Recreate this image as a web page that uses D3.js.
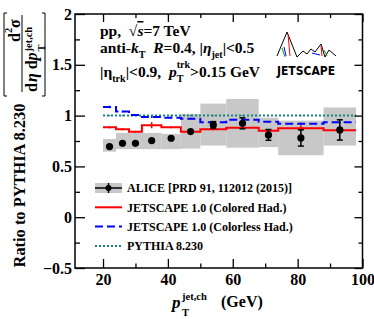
<!DOCTYPE html>
<meta charset="utf-8">
<style>
body { margin: 0; background: #fff; }
svg { display: block; font-family: "Liberation Serif", "Times New Roman", serif; font-weight: bold; }
text { white-space: pre; }
</style>
<svg width="374" height="319"></svg>
<script src="https://d3js.org/d3.v7.min.js"></script>
<script>

// bin edges (GeV) shared by data and models
var edges = [20, 24, 28, 32, 38, 44, 50, 58, 68, 74, 88, 98];

var aliceVal   = [0.695, 0.727, 0.727, 0.754, 0.777, 0.843, 0.908, 0.924, 0.810, 0.780, 0.859];
var aliceStat  = [0.01, 0.01, 0.01, 0.012, 0.012, 0.02, 0.033, 0.054, 0.053, 0.08, 0.10];
var aliceSysHi = [0.77, 0.83, 0.83, 0.83, 0.82, 1.017, 1.118, 1.164, 0.98, 0.95, 1.08];
var aliceSysLo = [0.645, 0.67, 0.67, 0.67, 0.67, 0.675, 0.705, 0.684, 0.69, 0.61, 0.705];

var coloredVal = [0.885, 0.865, 0.84, 0.905, 0.885, 0.84, 0.865, 0.88, 0.85, 0.875, 0.855];
var coloredErr = [0.01, 0.01, 0.01, 0.03, 0.01, 0.01, 0.01, 0.01, 0.01, 0.03, 0.02];
var colorlessVal = [1.085, 1.04, 1.005, 0.985, 0.98, 0.97, 0.935, 0.96, 0.94, 0.92, 0.935];
var colorlessErr = [0.012, 0.01, 0.008, 0.008, 0.008, 0.008, 0.008, 0.008, 0.008, 0.01, 0.01];
var pythiaVal  = [1, 1, 1, 1, 1, 1, 1, 1, 1, 1, 1];
var pythiaErr  = [0.006, 0.006, 0.006, 0.006, 0.006, 0.006, 0.006, 0.006, 0.006, 0.006, 0.006];

var xMajor = [20, 40, 60, 80, 100], xMinor = [30, 50, 70, 90];
var yMajor = [-0.5, 0, 0.5, 1, 1.5, 2], yMinor = [-0.25, 0.25, 0.75, 1.25, 1.75];
var yLabels = ["\u22120.5", "0", "0.5", "1", "1.5", "2"];

var legendNames = ["ALICE [PRD 91, 112012 (2015)]", "JETSCAPE 1.0 (Colored Had.)",
                   "JETSCAPE 1.0 (Colorless Had.)", "PYTHIA 8.230"];
var legendKinds = ["alice", "red", "blue", "teal"];

var RED = "#ff0000", BLUE = "#0000ff", TEAL = "#1a8080", GRAY = "#c8c8c8";

var svg = d3.select("svg");
var x = d3.scaleLinear().domain([11.36, 100]).range([75, 362.5]);
var y = d3.scaleLinear().domain([-0.5, 2]).range([268, 14]);

var bins = d3.range(aliceVal.length).map(function(i) {
  return {lo: edges[i], hi: edges[i + 1], c: (edges[i] + edges[i + 1]) / 2, i: i};
});

// systematic boxes
svg.append("g").selectAll("rect").data(bins).enter().append("rect")
  .attr("x", function(d) { return x(d.lo); })
  .attr("width", function(d) { return x(d.hi) - x(d.lo); })
  .attr("y", function(d) { return y(aliceSysHi[d.i]); })
  .attr("height", function(d) { return y(aliceSysLo[d.i]) - y(aliceSysHi[d.i]); })
  .attr("fill", GRAY);

function stepLine(vals) {
  var pts = vals.map(function(v, i) { return [edges[i], v]; });
  pts.push([edges[edges.length - 1], vals[vals.length - 1]]);
  return d3.line().x(function(d) { return x(d[0]); }).y(function(d) { return y(d[1]); })
    .curve(d3.curveStepAfter)(pts);
}

function drawModel(vals, errs, color, dash) {
  var g = svg.append("g");
  g.append("path").attr("d", stepLine(vals)).attr("fill", "none")
    .attr("stroke", color).attr("stroke-width", 2).attr("stroke-dasharray", dash);
  g.selectAll("line").data(bins).enter().append("line")
    .attr("x1", function(d) { return x(d.c); }).attr("x2", function(d) { return x(d.c); })
    .attr("y1", function(d) { return y(vals[d.i] + errs[d.i]); })
    .attr("y2", function(d) { return y(vals[d.i] - errs[d.i]); })
    .attr("stroke", color).attr("stroke-width", 1.5);
}

drawModel(pythiaVal, pythiaErr, TEAL, "2,2");
drawModel(colorlessVal, colorlessErr, BLUE, "8,4");
drawModel(coloredVal, coloredErr, RED, null);

// ALICE points with stat bars
var ga = svg.append("g").attr("stroke", "#000").attr("stroke-width", 1.5);
ga.selectAll("line.err").data(bins).enter().append("line")
  .attr("x1", function(d) { return x(d.c); }).attr("x2", function(d) { return x(d.c); })
  .attr("y1", function(d) { return y(aliceVal[d.i] + aliceStat[d.i]); })
  .attr("y2", function(d) { return y(aliceVal[d.i] - aliceStat[d.i]); });
[1, -1].forEach(function(sgn) {
  ga.selectAll(null).data(bins.filter(function(d) { return aliceStat[d.i] > 0.03; })).enter().append("line")
    .attr("x1", function(d) { return x(d.c) - 3; }).attr("x2", function(d) { return x(d.c) + 3; })
    .attr("y1", function(d) { return y(aliceVal[d.i] + sgn * aliceStat[d.i]); })
    .attr("y2", function(d) { return y(aliceVal[d.i] + sgn * aliceStat[d.i]); });
});
ga.selectAll("circle").data(bins).enter().append("circle")
  .attr("cx", function(d) { return x(d.c); }).attr("cy", function(d) { return y(aliceVal[d.i]); })
  .attr("r", 3.6).attr("fill", "#000").attr("stroke", "none");

// axes, ticks pointing inward on all four sides
function ticks(gen, vals, size, labels, tr, pad) {
  var g = svg.append("g").attr("transform", tr)
    .call(gen.tickValues(vals).tickSize(-size).tickPadding(pad || 0)
      .tickFormat(function(d, i) { return labels ? labels[i] : ""; }));
  g.select(".domain").remove();
  g.selectAll("line").attr("stroke", "#000").attr("stroke-width", 1.3);
  g.attr("font-family", null).attr("font-size", 16);
  g.selectAll("text").attr("fill", "#000");
  return g;
}
ticks(d3.axisBottom(x), xMajor, 9, xMajor.map(String), "translate(0,268)", 6);
ticks(d3.axisBottom(x), xMinor, 4.5, null, "translate(0,268)");
ticks(d3.axisTop(x), xMajor, 8, null, "translate(0,14)");
ticks(d3.axisTop(x), xMinor, 4, null, "translate(0,14)");
ticks(d3.axisLeft(y), yMajor, 10, yLabels, "translate(75,0)", 3);
ticks(d3.axisLeft(y), yMinor, 5, null, "translate(75,0)");
ticks(d3.axisRight(y), yMajor, 8, null, "translate(362.5,0)");
ticks(d3.axisRight(y), yMinor, 4, null, "translate(362.5,0)");

// frame
svg.append("rect").attr("x", 75).attr("y", 14).attr("width", 362.5 - 75).attr("height", 268 - 14)
  .attr("fill", "none").attr("stroke", "#000").attr("stroke-width", 1.5);

// rich text: runs laid out left to right, "stack" puts a run under the previous one
function rich(parent, x0, y0, runs, size) {
  var cx = x0, start = x0;
  runs.forEach(function(r) {
    var s = size * (r.s || 1);
    var px = r.stack ? start : cx + (r.gap || 0);
    var t = parent.append("text").attr("x", px).attr("y", y0 + (r.dy || 0) * size)
      .attr("xml:space", "preserve")
      .attr("font-size", s).attr("font-style", r.it ? "italic" : null)
      .attr("text-decoration", r.ov ? "overline" : null)
      .text(r.t);
    var w = t.node().getComputedTextLength();
    if (!r.stack) start = px;
    cx = Math.max(cx, px + w);
  });
  return cx - x0;
}

var tg = svg.append("g");
rich(tg, 100, 36, [{t: "pp,  \u221A"}, {t: "s", it: true, ov: true}, {t: "=7 TeV"}], 15.5);
rich(tg, 100, 53, [{t: "anti-"}, {t: "k", it: true}, {t: "T", s: 0.65, dy: 0.3},
  {t: "  "}, {t: "R", it: true}, {t: "=0.4, |"}, {t: "\u03B7", it: true},
  {t: "jet", s: 0.65, dy: 0.35}, {t: "|<0.5"}], 15.5);
rich(tg, 100, 77, [{t: "|\u03B7"}, {t: "trk", s: 0.65, dy: 0.35}, {t: "|<0.9,  "},
  {t: "p", it: true}, {t: "trk", s: 0.65, dy: -0.55}, {t: "T", s: 0.65, dy: 0.35, stack: true},
  {t: ">0.15 GeV"}], 15.5);

// JETSCAPE logo
var lg = svg.append("g").attr("fill", "none").attr("stroke-width", 1);
lg.append("path").attr("stroke", "#000")
  .attr("d", "M277,56 L287,32 L297,57 L303,51 L307,54 L311,49 L315,52 L321,44 L325,57 L329,50 L336,56");
lg.append("path").attr("stroke", RED).attr("d", "M288,34 L290,56 M321,46 L322,56");
lg.append("path").attr("stroke", "#1a9a1a").attr("d", "M282,48 L285,57 M324,50 L327,56");
lg.append("path").attr("stroke", BLUE).attr("d", "M284,47 L286,56 M312,53 L320,55");
svg.append("text").attr("x", 277).attr("y", 75).attr("font-family", "DejaVu Sans Condensed, DejaVu Sans")
  .attr("font-size", 13).attr("textLength", 58).attr("lengthAdjust", "spacingAndGlyphs").text("JETSCAPE");

// legend
var leg = svg.append("g");
legendNames.forEach(function(name, i) {
  var cy = 188 + i * 19.3, kind = legendKinds[i];
  if (kind === "alice") {
    leg.append("rect").attr("x", 95).attr("y", cy - 5).attr("width", 27).attr("height", 10).attr("fill", GRAY);
    leg.append("line").attr("x1", 95).attr("x2", 122).attr("y1", cy).attr("y2", cy).attr("stroke", "#000").attr("stroke-width", 1.5);
    leg.append("line").attr("x1", 108.5).attr("x2", 108.5).attr("y1", cy - 5).attr("y2", cy + 5).attr("stroke", "#000").attr("stroke-width", 1.5);
    leg.append("circle").attr("cx", 108.5).attr("cy", cy).attr("r", 3).attr("fill", "#000");
  } else {
    var c = kind === "red" ? RED : kind === "blue" ? BLUE : TEAL;
    leg.append("line").attr("x1", 95).attr("x2", 122).attr("y1", cy).attr("y2", cy).attr("stroke", c)
      .attr("stroke-width", 2).attr("stroke-dasharray", kind === "blue" ? "8,4" : kind === "teal" ? "2,2" : null);
  }
  leg.append("text").attr("x", 127).attr("y", cy + 4.3).attr("font-size", 12).text(name);
});

// x axis title
var xt = svg.append("g");
xt.append("text").attr("x", 172).attr("y", 308).attr("font-size", 17).attr("font-style", "italic").text("p");
xt.append("text").attr("x", 182).attr("y", 300).attr("font-size", 10.5).text("jet,ch");
xt.append("text").attr("x", 182).attr("y", 315.5).attr("font-size", 10.5).text("T");
xt.append("text").attr("x", 221).attr("y", 307).attr("font-size", 16).text("(GeV)");

// y axis title
svg.append("text").attr("transform", "translate(25,185.5) rotate(-90)")
  .attr("text-anchor", "middle").attr("font-size", 16.4).text("Ratio to PYTHIA 8.230");

// fraction in brackets, rotated
var fr = svg.append("g").attr("transform", "translate(22,53) rotate(-90)");
fr.append("line").attr("x1", -39).attr("x2", 38).attr("y1", 0).attr("y2", 0).attr("stroke", "#000").attr("stroke-width", 1);
rich(fr, 11, -2.5, [{t: "d"}, {t: "2", s: 0.65, dy: -0.45}, {t: "\u03C3"}], 16);
rich(fr, -39, 15, [{t: "d"}, {t: "\u03B7", it: true, gap: 1}, {t: "d", gap: 4}, {t: "p", it: true},
  {t: "jet,ch", s: 0.65, dy: -0.3, gap: 1}, {t: "T", s: 0.65, dy: 0.5, stack: true}], 16);
svg.append("path").attr("fill", "none").attr("stroke", "#000").attr("stroke-width", 1)
  .attr("d", "M7,13 L4,13 L4,96 L7,96 M42,13 L45,13 L45,96 L42,96");

</script>
